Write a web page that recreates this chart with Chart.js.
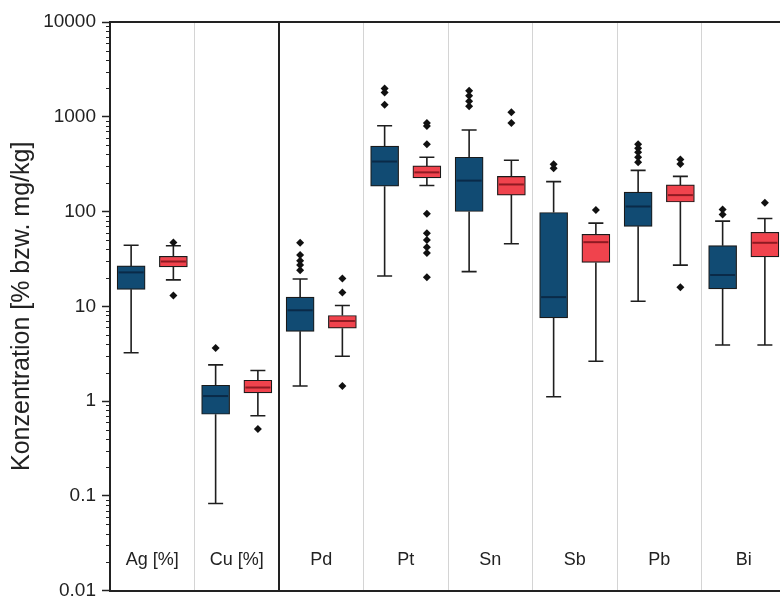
<!DOCTYPE html>
<html><head><meta charset="utf-8">
<script src="https://cdn.jsdelivr.net/npm/chart.js@4.4.1/dist/chart.umd.min.js"></script>
<style>
html,body{margin:0;padding:0;overflow:hidden;background:#fff;}
#wrap{position:relative;width:790px;height:608px;}
</style></head><body>
<div id="wrap"><canvas id="c"></canvas></div>
<script>
const categories = ['Ag [%]', 'Cu [%]', 'Pd', 'Pt', 'Sn', 'Sb', 'Pb', 'Bi'];
const yTickValues = [0.01, 0.1, 1, 10, 100, 1000, 10000];
const yTitle = 'Konzentration [% bzw. mg/kg]';

// series A (blue)
const aMin    = [3.24, 0.083, 1.44, 20.9, 23.2, 1.11, 11.3, 3.9];
const aQ1     = [15.1, 0.726, 5.44, 185, 100, 7.55, 69.8, 15.3];
const aMedian = [22.8, 1.13, 9.08, 337, 212, 12.5, 113, 21.4];
const aQ3     = [26.7, 1.47, 12.5, 491, 374, 97.7, 160, 43.6];
const aMax    = [44, 2.41, 19.4, 805, 726, 207, 272, 79.3];
const aOutliers = [[], [3.62], [46.8, 34.8, 30.3, 27.2, 24.0], [1990, 1800, 1340],
  [1879, 1667, 1456, 1291], [316, 287], [514, 464, 422, 374, 332], [105, 93]];

// series B (red)
const bMin    = [19, 0.70, 2.97, 188, 45.7, 2.63, 27.2, 3.9];
const bQ1     = [26.1, 1.22, 5.87, 226, 149, 29, 126, 33.2];
const bMedian = [29.7, 1.39, 7.0, 259, 193, 47.5, 149, 46.8];
const bQ3     = [33.7, 1.66, 8.0, 303, 235, 57.5, 191, 60.4];
const bMax    = [43.5, 2.10, 10.2, 374, 348, 75.5, 235, 84.5];
const bOutliers = [[47, 13.0], [0.507], [19.7, 14.0, 1.44], [860, 800, 514, 95, 59, 50, 42, 36.5, 20.2],
  [1119, 859], [104], [354, 318, 15.9], [124]];

const FONT = '"Liberation Sans", Arial, sans-serif';
const blueFill = '#114b73', redFill = '#f0434d';
const OFF_A = -0.25, OFF_B = 0.25;

function boxData(q1, q3, off) { return q1.map((v, i) => ({x: i + off, y: [v, q3[i]]})); }
function outlierPoints(list, off) {
  const pts = [];
  list.forEach((vals, i) => vals.forEach(v => pts.push({x: i + off, y: v})));
  return pts;
}

const series = [
  {min: aMin, q1: aQ1, med: aMedian, q3: aQ3, max: aMax, medColor: '#0a2a48'},
  {min: bMin, q1: bQ1, med: bMedian, q3: bQ3, max: bMax, medColor: '#8e1a22'}
];

const boxPlugin = {
  id: 'boxExtras',
  beforeDatasetsDraw(chart) {
    const ctx = chart.ctx, y = chart.scales.y;
    ctx.save();
    ctx.strokeStyle = '#1e1e1e';
    ctx.lineWidth = 1.6;
    series.forEach((s, si) => {
      const meta = chart.getDatasetMeta(si);
      meta.data.forEach((bar, i) => {
        const x = bar.x, cap = 7.5;
        const yMin = y.getPixelForValue(s.min[i]), yMax = y.getPixelForValue(s.max[i]);
        const yQ1 = y.getPixelForValue(s.q1[i]), yQ3 = y.getPixelForValue(s.q3[i]);
        ctx.beginPath();
        ctx.moveTo(x, yQ3); ctx.lineTo(x, yMax);
        ctx.moveTo(x, yQ1); ctx.lineTo(x, yMin);
        ctx.moveTo(x - cap, yMax); ctx.lineTo(x + cap, yMax);
        ctx.moveTo(x - cap, yMin); ctx.lineTo(x + cap, yMin);
        ctx.stroke();
      });
    });
    ctx.restore();
  },
  afterDatasetsDraw(chart) {
    const ctx = chart.ctx, y = chart.scales.y, xs = chart.scales.x, area = chart.chartArea;
    ctx.save();
    series.forEach((s, si) => {
      const meta = chart.getDatasetMeta(si);
      meta.data.forEach((bar, i) => {
        const yMed = y.getPixelForValue(s.med[i]);
        ctx.strokeStyle = s.medColor; ctx.lineWidth = 2;
        ctx.beginPath();
        ctx.moveTo(bar.x - bar.width / 2 + 1.5, yMed);
        ctx.lineTo(bar.x + bar.width / 2 - 1.5, yMed);
        ctx.stroke();
      });
    });
    // minor ticks
    ctx.strokeStyle = '#222'; ctx.lineWidth = 1.2;
    ctx.beginPath();
    for (let e = -2; e < 4; e++) {
      for (let k = 2; k < 10; k++) {
        const py = Math.round(y.getPixelForValue(k * Math.pow(10, e))) + 0.5;
        ctx.moveTo(area.left - 4, py); ctx.lineTo(area.left, py);
      }
    }
    ctx.stroke();
    // top frame line
    ctx.strokeStyle = '#222'; ctx.lineWidth = 2;
    ctx.beginPath(); ctx.moveTo(area.left - 1, area.top); ctx.lineTo(area.right, area.top); ctx.stroke();
    // category labels
    ctx.fillStyle = '#222';
    ctx.font = '18px ' + FONT;
    ctx.textAlign = 'center'; ctx.textBaseline = 'alphabetic';
    categories.forEach((c, i) => ctx.fillText(c, xs.getPixelForValue(i), area.bottom - 26));
    ctx.restore();
  }
};

const isMainSep = v => Math.abs(v + 0.5) < 1e-6 || Math.abs(v - 1.5) < 1e-6;

new Chart(document.getElementById('c'), {
  type: 'bar',
  data: {
    datasets: [
      {data: boxData(aQ1, aQ3, OFF_A), backgroundColor: blueFill, borderColor: '#1a1a1a', borderWidth: 1.2,
       borderSkipped: false, grouped: false, barThickness: 28},
      {data: boxData(bQ1, bQ3, OFF_B), backgroundColor: redFill, borderColor: '#1a1a1a', borderWidth: 1.2,
       borderSkipped: false, grouped: false, barThickness: 28},
      {type: 'scatter', data: outlierPoints(aOutliers, OFF_A), pointStyle: 'rectRot',
       pointRadius: 4, backgroundColor: '#111', borderColor: '#111', borderWidth: 0},
      {type: 'scatter', data: outlierPoints(bOutliers, OFF_B), pointStyle: 'rectRot',
       pointRadius: 4, backgroundColor: '#111', borderColor: '#111', borderWidth: 0}
    ]
  },
  options: {
    responsive: true, maintainAspectRatio: false, animation: false,
    layout: {padding: {top: 22, right: 1, bottom: 0, left: 0}},
    plugins: {legend: {display: false}, tooltip: {enabled: false}},
    scales: {
      x: {
        type: 'linear', min: -0.5, max: 7.5, offset: false,
        afterBuildTicks: s => { s.ticks = categories.concat(['']).map((c, i) => ({value: i - 0.5})); },
        grid: {offset: false, drawTicks: false, drawOnChartArea: true,
          color: ctx => (ctx.tick && isMainSep(ctx.tick.value)) ? '#222' : '#d4d4d4',
          lineWidth: ctx => (ctx.tick && isMainSep(ctx.tick.value)) ? 2 : 1},
        ticks: {display: false},
        border: {display: true, color: '#222', width: 2},
        afterFit: s => { s.height = 10; }
      },
      y: {
        type: 'logarithmic', min: 0.01, max: 10000,
        afterBuildTicks: s => { s.ticks = yTickValues.map(v => ({value: v, major: true})); },
        afterFit: s => { s.width = 110; },
        grid: {drawOnChartArea: false, drawTicks: true, tickLength: 8, tickColor: '#222', tickWidth: 1.5},
        border: {display: true, color: '#222', width: 2},
        ticks: {font: {family: FONT, size: 19}, color: '#222', padding: 6,
          callback: v => String(v)},
        title: {display: true, text: yTitle, color: '#222', font: {family: FONT, size: 25},
          padding: {top: 7, bottom: 0}}
      }
    }
  },
  plugins: [boxPlugin]
});
</script>
</body></html>
